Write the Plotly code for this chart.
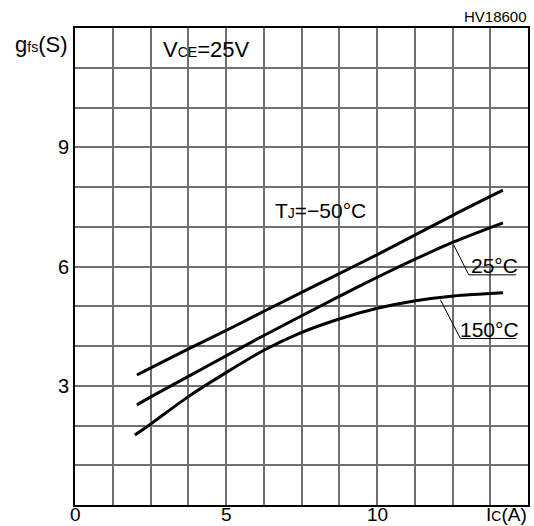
import plotly.graph_objects as go

# Forward transconductance vs collector current, V_CE = 25 V
ic_m50 = [2.05, 2.51, 3.74, 5.45, 6.27, 8.75, 10.01, 11.28, 12.54, 14.17]
gfs_m50 = [3.27, 3.45, 3.92, 4.56, 4.88, 5.82, 6.30, 6.80, 7.30, 7.92]

ic_25 = [2.05, 2.51, 3.74, 5.0, 6.27, 8.75, 10.01, 11.28, 12.54, 14.17]
gfs_25 = [2.52, 2.72, 3.23, 3.75, 4.27, 5.25, 5.73, 6.19, 6.62, 7.10]

ic_150 = [1.98, 2.51, 3.74, 5.0, 6.27, 7.43, 8.75, 10.01, 11.28, 12.54, 14.17]
gfs_150 = [1.76, 2.04, 2.72, 3.33, 3.90, 4.32, 4.68, 4.95, 5.14, 5.26, 5.34]

x_ticks = [0, 5, 10]
y_ticks = [3, 6, 9]

FONT = "Liberation Sans"
W, H = 534, 526
L, R, T, B = 75, 4, 28, 21
PW, PH = W - L - R, H - T - B


def px(x):
    return (x - L) / PW


def py(y):
    return (H - B - y) / PH


fig = go.Figure()

for xs, ys in [(ic_m50, gfs_m50), (ic_25, gfs_25), (ic_150, gfs_150)]:
    fig.add_trace(go.Scatter(x=xs, y=ys, mode="lines",
                             line=dict(color="black", width=3, shape="spline", smoothing=0.8),
                             showlegend=False, hoverinfo="skip"))

# leader lines to the curve labels
fig.add_trace(go.Scatter(x=[12.54, 13.04, 14.61], y=[6.54, 5.79, 5.79], mode="lines",
                         line=dict(color="black", width=1), showlegend=False, hoverinfo="skip"))
fig.add_trace(go.Scatter(x=[12.10, 12.76, 14.61], y=[5.16, 4.19, 4.19], mode="lines",
                         line=dict(color="black", width=1), showlegend=False, hoverinfo="skip"))

ann = []
# x tick labels sit flush with the bottom edge of the page
for v in x_ticks:
    ann.append(dict(x=v, y=py(H), xref="x", yref="paper", text=str(v), showarrow=False,
                    yanchor="bottom", borderpad=0, font=dict(size=19)))
for v in y_ticks:
    ann.append(dict(x=px(71), y=v, xref="paper", yref="y", text=str(v), showarrow=False,
                    xanchor="right", yanchor="middle", font=dict(size=20)))

sub = "<span style='font-size:14px'>%s</span>"
texts = [
    (41, 44, "g" + sub % "fs" + "(S)", 22),
    (497, 16, "HV18600", 15),
    (207, 49, "V" + sub % "CE" + "=25V", 22),
    (322, 210, "T" + sub % "J" + "=−50°C", 21),
    (496, 265, "25°C", 21),
    (491, 329, "150°C", 21),
]
for x0, y0, t, s in texts:
    ann.append(dict(x=px(x0), y=py(y0), xref="paper", yref="paper", text=t,
                    showarrow=False, xanchor="center", yanchor="middle", font=dict(size=s)))

# axis title flush with the bottom-right corner
ann.append(dict(x=1, y=py(H), xref="paper", yref="paper",
                text="I" + sub % "C" + "(A)", showarrow=False, xanchor="right",
                yanchor="bottom", borderpad=0, font=dict(size=19)))

fig.update_layout(
    width=W, height=H,
    margin=dict(l=L, r=R, t=T, b=B),
    paper_bgcolor="white", plot_bgcolor="white",
    font=dict(family=FONT, color="black"),
    annotations=ann,
    xaxis=dict(range=[0, 15], tick0=0, dtick=1.25, showticklabels=False, ticks="",
               showgrid=True, gridcolor="#707070", gridwidth=1.5, zeroline=False,
               showline=True, mirror=True, linecolor="black", linewidth=2),
    yaxis=dict(range=[0, 12], tick0=0, dtick=1, showticklabels=False, ticks="",
               showgrid=True, gridcolor="#707070", gridwidth=1.5, zeroline=False,
               showline=True, mirror=True, linecolor="black", linewidth=2),
)

fig.write_html("out.html")
